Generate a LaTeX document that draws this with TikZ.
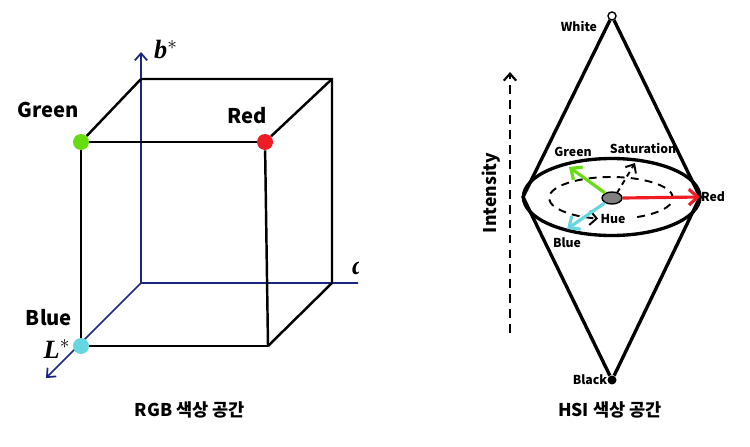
\documentclass[tikz,border=0pt]{standalone}
\usepackage{fontspec}
\setmainfont{Noto Sans CJK KR}
\newfontfamily\axisfont{Liberation Serif}
\usetikzlibrary{arrows.meta,shapes.geometric}
\definecolor{grn}{RGB}{102,221,17}
\definecolor{rd}{RGB}{238,28,36}
\definecolor{cyn}{RGB}{102,214,224}
\definecolor{navy}{RGB}{26,38,128}
\begin{document}
\begin{tikzpicture}[x=0.02cm, y=-0.02cm, >={Straight Barb[length=4pt,width=7pt]}, every node/.style={font=\bfseries\fontsize{11.5}{13}\selectfont},dot/.style={circle,inner sep=0pt,minimum size=0.32cm},edge/.style={line width=1.4pt},axis/.style={navy,line width=1pt},rim/.style={line width=1.9pt},small/.style={font=\bfseries\fontsize{7}{8}\selectfont},axlbl/.style={font=\axisfont\bfseries\itshape\fontsize{15}{16}\selectfont},captext/.style={font=\bfseries\fontsize{10}{12}\selectfont},colarrow/.style={line width=1.8pt,-{Straight Barb[length=5pt,width=9pt]}},]
\useasboundingbox (0,0) rectangle (750,446);
\begin{scope}
\coordinate (o) at (141,283);
\coordinate (bt) at (141,79);
\coordinate (btr) at (332,79);
\coordinate (bbr) at (332,283);
\coordinate (fbr) at (268,346);
\coordinate (btip) at (141,52);
\coordinate (ltip) at (46,378);
\coordinate (aend) at (360,283);
\begin{scope}
\clip (0,0) rectangle (358,446);
\draw[axis] (o) -- (aend);
\node[axlbl, anchor=west] (a) at (346,268) {a};
\end{scope}
\draw[axis,->] (o) -- (btip);
\draw[axis,->] (o) -- (ltip);
\node[dot,fill=grn] (G) at (81,142) {};
\node[dot,fill=rd] (R) at (265,142) {};
\node[dot,fill=cyn] (B) at (81,346) {};
\draw[edge] (bt) -- (btr) -- (bbr) -- (fbr);
\draw[edge] (bt) -- (G);
\draw[edge] (btr) -- (R);
\draw[edge] (G) -- (R);
\draw[edge] (G) -- (B);
\draw[edge] (R) -- (fbr);
\draw[edge] (B) -- (fbr);
\node (Glbl) at (48,110) {Green};
\node (Rlbl) at (247,116) {Red};
\node (Blbl) at (49,318) {Blue};
\node[axlbl] (Llbl) at (57,349) {L$^{*}$};
\node[axlbl] (blbl) at (166,50) {b$^{*}$};
\node[captext] (rgbcap) at (190,410) {RGB 색상 공간};
\end{scope}
\begin{scope}
\coordinate (L) at (523,197);
\coordinate (Rt) at (700,197);
\coordinate (gtip) at (569,167);
\coordinate (ctip) at (567,229);
\coordinate (s0) at (617,193);
\coordinate (s1) at (635,163);
\coordinate (i0) at (510,333);
\coordinate (i1) at (510,72);
\node[circle,draw,line width=0.8pt,fill=white,inner sep=0pt,minimum size=0.16cm] (W) at (612,16) {};
\node[circle,fill=black,inner sep=0pt,minimum size=0.18cm] (K) at (612,380) {};
\draw[rim] (W) -- (L) -- (K) -- (Rt) -- (W);
\draw[rim] (611.7,197) ellipse [x radius=88.3, y radius=38.5];
\draw[line width=1.1pt,dash pattern=on 4.5pt off 3.5pt,-{Straight Barb[length=4pt,width=8pt]}] (611,198) ++(65:62 and 21) arc[start angle=65,end angle=-258,x radius=62,y radius=21];
\draw[line width=1.1pt,dash pattern=on 3pt off 2.5pt,->] (s0) -- (s1);
\node[ellipse,draw,fill=gray,line width=0.8pt,inner sep=0pt,minimum width=0.4cm,minimum height=0.24cm] (c) at (612,198) {};
\draw[colarrow,rd] (c.east) -- (Rt);
\draw[colarrow,grn] (c) -- (gtip);
\draw[colarrow,cyn] (c) -- (ctip);
\draw[line width=1.2pt,dash pattern=on 5pt off 3.5pt,->] (i0) -- (i1);
\node[small] (Wlbl) at (579,26) {White};
\node[small] (Klbl) at (590,380) {Black};
\node[small] (hG) at (573,152) {Green};
\node[small] (hS) at (643,148) {Saturation};
\node[small] (hR) at (713,197) {Red};
\node[small] (hB) at (567,243) {Blue};
\node[small] (hH) at (613,219) {Hue};
\node[rotate=90,font=\bfseries\fontsize{10}{12}\selectfont] (I) at (491,193) {Intensity};
\node[captext] (hsicap) at (610,410) {HSI 색상 공간};
\end{scope}
\end{tikzpicture}
\end{document}
